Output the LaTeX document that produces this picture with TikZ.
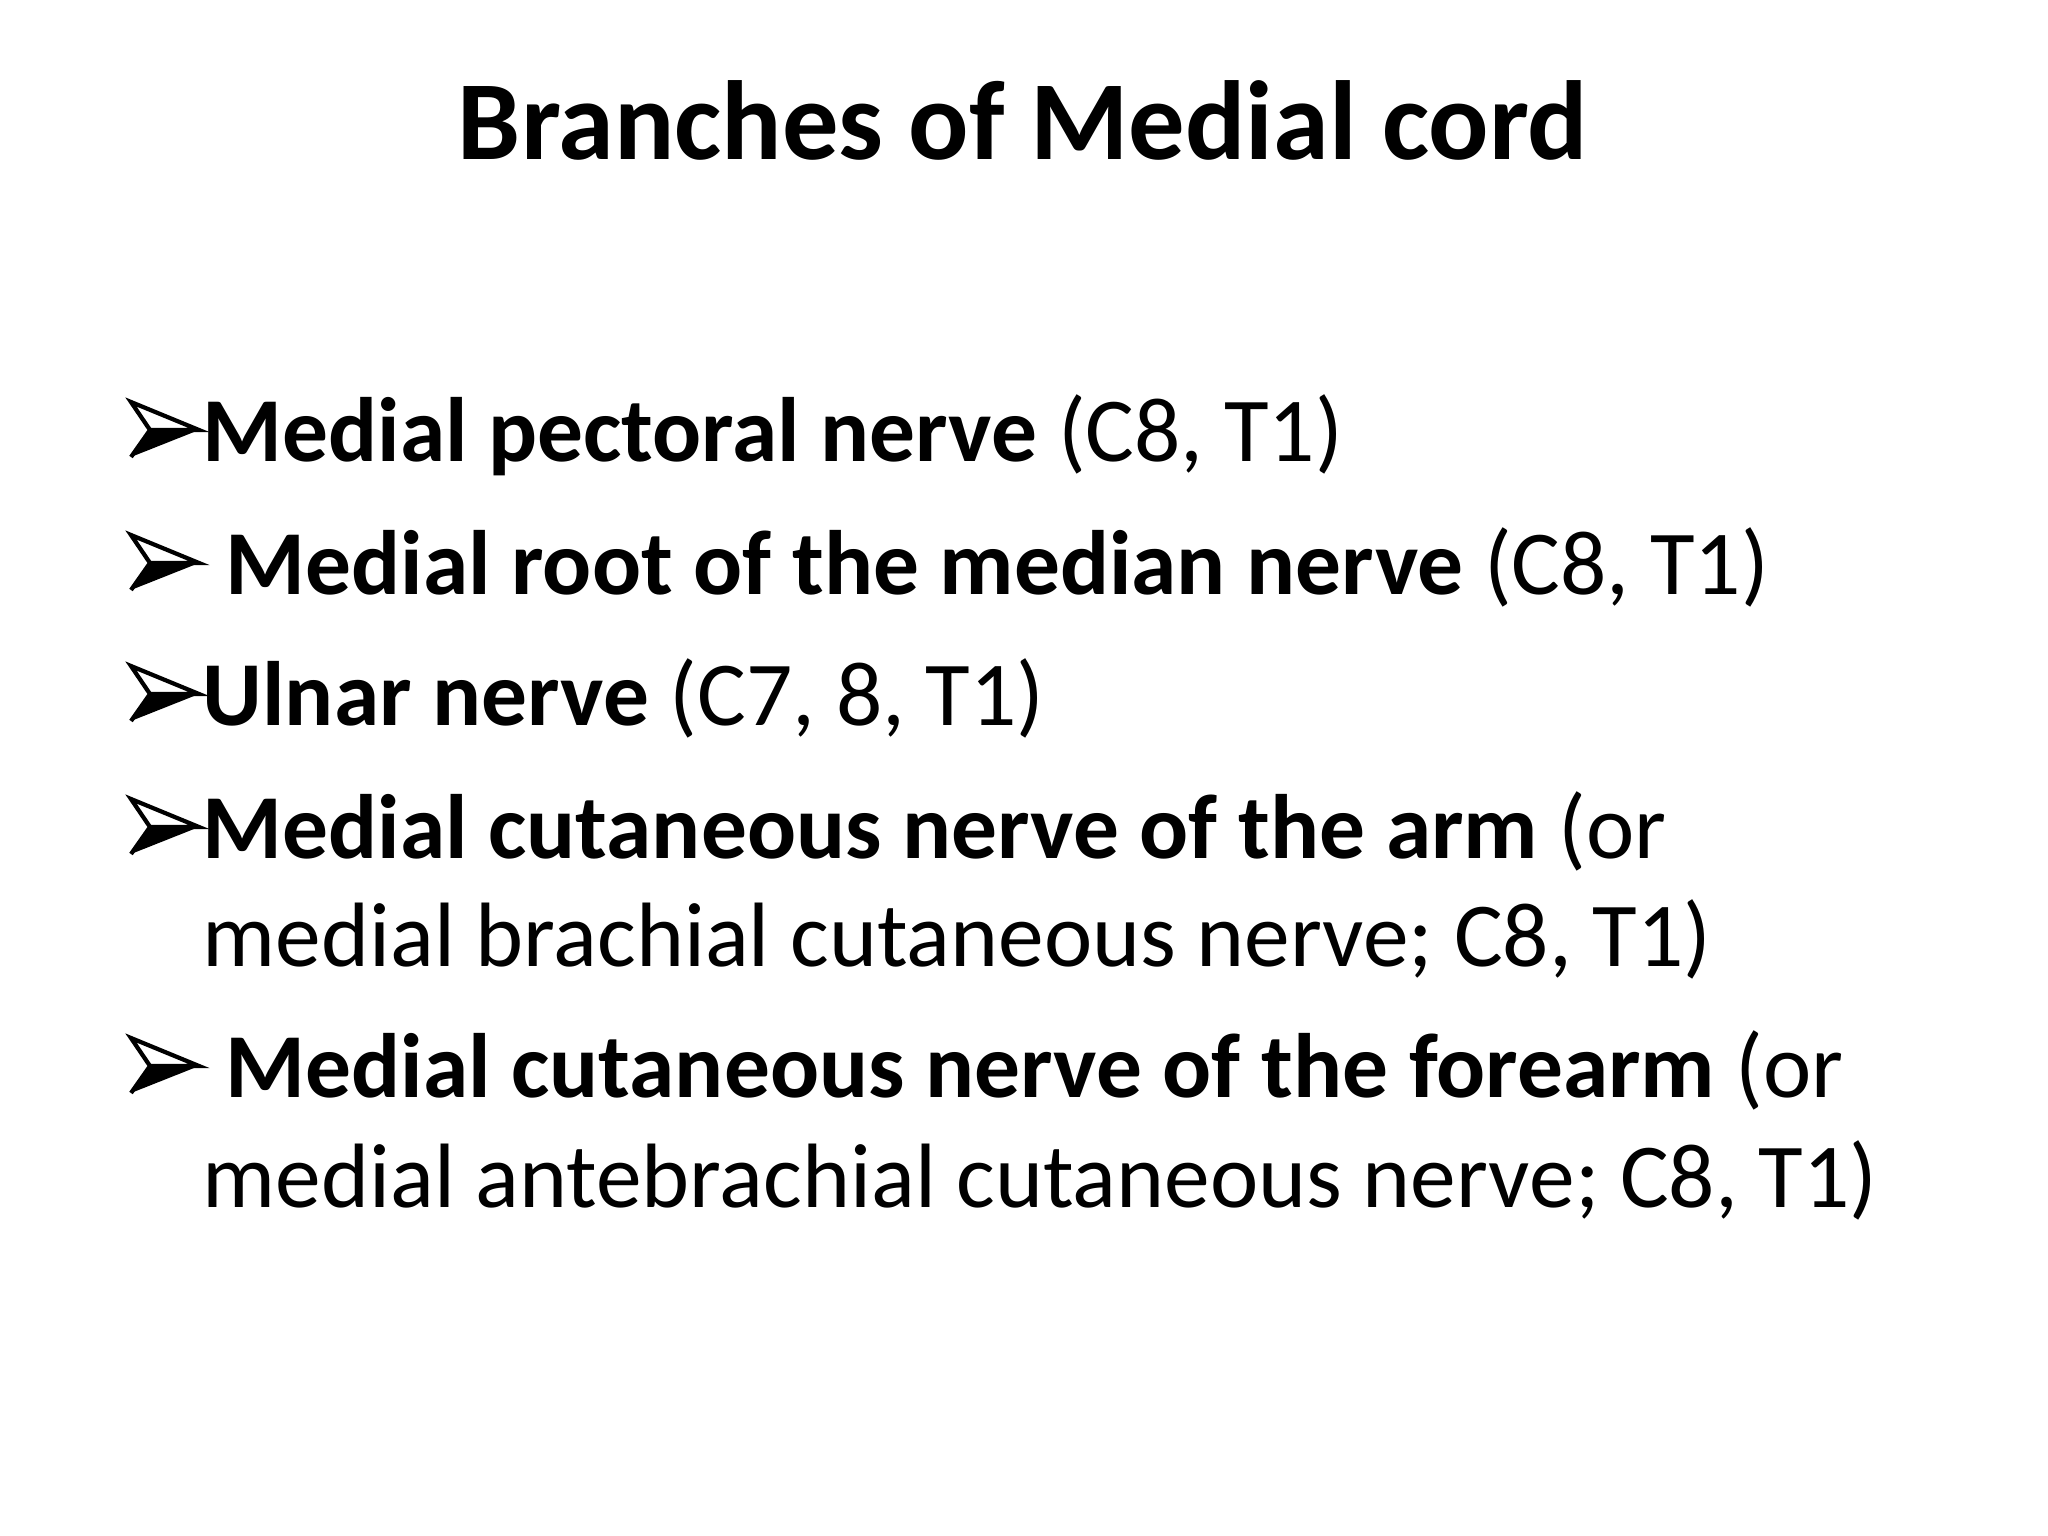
\documentclass[tikz,border=0pt]{standalone}
\usepackage{fontspec}
\setmainfont{Carlito}
\begin{document}
\begin{tikzpicture}[x=0.01cm,y=-0.01cm,
  item/.style={anchor=base west,inner sep=0pt,font=\fontsize{26}{32}\selectfont},
  bul/.pic={\draw[line width=1.2pt,line join=miter] (0,-55)--(68,-27)--(19,-27)--cycle;
            \fill (19,-27)--(68,-27)--(0,0)--cycle; \draw[line width=1.2pt] (19,-27)--(0,0);}]
\useasboundingbox (0,0) rectangle (2048,1536);
\node[anchor=base,inner sep=0pt,font=\bfseries\fontsize{32}{38}\selectfont] (title) at (1023,159) {Branches of Medial cord};
\pic at (131,457) {bul};
\node[item] (t1) at (202,461) {\textbf{Medial pectoral nerve} (C8, T1)};
\pic at (131,590) {bul};
\node[item] (t2) at (225,594) {\textbf{Medial root of the median nerve} (C8, T1)};
\pic at (131,721) {bul};
\node[item] (t3) at (202,725) {\textbf{Ulnar nerve} (C7, 8, T1)};
\pic at (131,854) {bul};
\node[item] (t4) at (202,858) {\textbf{Medial cutaneous nerve of the arm} (or};
\node[item] (t4b) at (202,966) {medial brachial cutaneous nerve; C8, T1)};
\pic at (131,1093) {bul};
\node[item] (t5) at (225,1097) {\textbf{Medial cutaneous nerve of the forearm} (or};
\node[item] (t5b) at (202,1207) {medial antebrachial cutaneous nerve; C8, T1)};
\end{tikzpicture}
\end{document}
